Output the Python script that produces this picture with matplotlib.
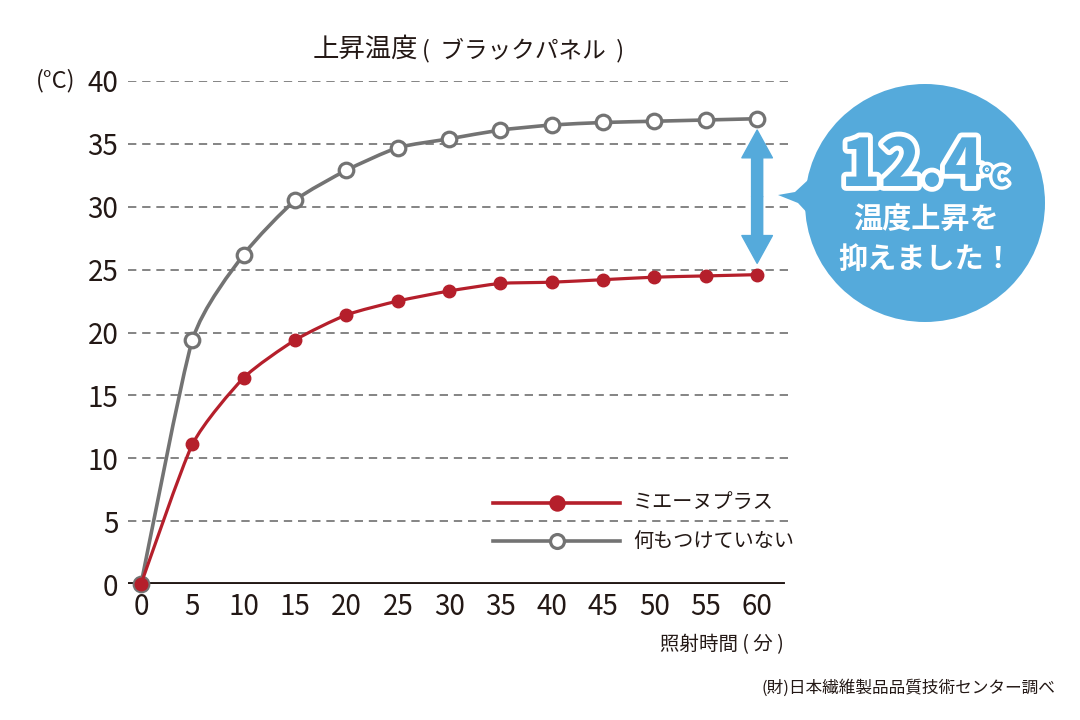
import numpy as np
import matplotlib
matplotlib.use("Agg")
import matplotlib.pyplot as plt
from matplotlib.path import Path
from matplotlib.patches import PathPatch, Ellipse, Polygon
from matplotlib.lines import Line2D
import matplotlib.patheffects as pe

plt.rcParams['font.family'] = ['Noto Sans CJK JP', 'DejaVu Sans']

# data
minutes = [0, 5, 10, 15, 20, 25, 30, 35, 40, 45, 50, 55, 60]
plain = [0, 19.4, 26.2, 30.5, 32.9, 34.7, 35.4, 36.1, 36.5, 36.7, 36.8, 36.9, 37.0]
mienu = [0, 11.1, 16.4, 19.4, 21.4, 22.5, 23.3, 23.9, 24.0, 24.2, 24.4, 24.5, 24.6]
series_names = ['ミエーヌプラス', '何もつけていない']
yticks = [0, 5, 10, 15, 20, 25, 30, 35, 40]

RED = '#b51f2b'
GRAY = '#737373'
BLUE = '#55aadb'
INK = '#231815'


def smooth_path(xs, ys, t=0.6):
    # catmull-rom through the points (reduced tension), drawn as cubic beziers
    p = np.column_stack([xs, ys]).astype(float)
    verts = [p[0]]
    codes = [Path.MOVETO]
    n = len(p)
    for i in range(n - 1):
        p0 = p[max(i - 1, 0)]
        p1 = p[i]
        p2 = p[i + 1]
        p3 = p[min(i + 2, n - 1)]
        verts += [p1 + t * (p2 - p0) / 6, p2 - t * (p3 - p1) / 6, p2]
        codes += [Path.CURVE4] * 3
    return Path(verts, codes)


fig = plt.figure(figsize=(10.8, 7.2), dpi=100)
ax = fig.add_axes([128 / 1080, 1 - 584 / 720, 662 / 1080, 503 / 720])
ax.set_xlim(-1.27, 63.2)
ax.set_ylim(0, 40)

for v in yticks[1:]:
    ax.axhline(v, color='#6f6f6f', lw=1.2, ls=(0, (5, 3.5)), zorder=1)
ax.axhline(0, color=INK, lw=2.8, zorder=2, xmax=0.99)

# lines
ax.add_patch(PathPatch(smooth_path(minutes, plain), fill=False, ec=GRAY, lw=2.6, zorder=3))
ax.plot(minutes, plain, ls='none', marker='o', ms=10.5, mfc='white', mec=GRAY, mew=2.3,
        zorder=4, clip_on=False)
ax.plot(minutes[0], plain[0], ls='none', marker='o', ms=10.5, mfc=GRAY, mec=GRAY, zorder=4, clip_on=False)
ax.add_patch(PathPatch(smooth_path(minutes, mienu), fill=False, ec=RED, lw=2.3, zorder=5))
ax.plot(minutes, mienu, ls='none', marker='o', ms=9, color=RED, zorder=6, clip_on=False)

# difference arrow
mid = (plain[-1] + mienu[-1]) / 2
for end in (plain[-1] - 0.9, mienu[-1] + 0.9):
    ax.annotate('', xy=(minutes[-1], end), xytext=(minutes[-1], mid),
                arrowprops=dict(arrowstyle='simple,head_length=2.0,head_width=2.2,tail_width=0.8',
                                mutation_scale=10, color=BLUE, shrinkA=0, shrinkB=0), zorder=7)

ax.set_xticks(minutes)
ax.set_yticks(yticks)
ax.tick_params(length=0, labelsize=20, colors=INK)
ax.tick_params(axis='x', pad=6)
ax.tick_params(axis='y', pad=7)
for s in ax.spines.values():
    s.set_visible(False)

# texts
fig.text(313 / 1080, 1 - 57 / 720, '上昇温度', fontsize=19, color=INK, va='baseline')
fig.text(422 / 1080, 1 - 57 / 720, '(  ブラックパネル  )', fontsize=17, color=INK, va='baseline')
fig.text(36 / 1080, 1 - 81 / 720, '(°C)', fontsize=17, color=INK, va='center')
fig.text(660 / 1080, 1 - 645 / 720, '照射時間 ( 分 )', fontsize=14, color=INK, va='center')
fig.text(1055 / 1080, 1 - 688 / 720, '(財)日本繊維製品品質技術センター調べ', fontsize=12,
         color=INK, va='center', ha='right')

# legend
for yy, col, face, name in [(503, RED, RED, series_names[0]), (541, GRAY, 'white', series_names[1])]:
    fy = 1 - yy / 720
    fig.add_artist(Line2D([493 / 1080, 620 / 1080], [fy, fy], color=col, lw=2.6))
    fig.add_artist(Line2D([557 / 1080], [fy], marker='o', ms=9.5 if face == RED else 10,
                          mfc=face, mec=col, mew=2.3, ls='none'))
    fig.text(633 / 1080, fy, name, fontsize=14.5, color=INK, va='center')

# bubble
fig.add_artist(Ellipse((925 / 1080, 1 - 203 / 720), 240 / 1080, 238 / 720, color=BLUE, lw=0))
tail = [(778, 195), (795, 192), (808, 180), (815, 200), (812, 218), (798, 203)]
fig.add_artist(Polygon([(x / 1080, 1 - y / 720) for x, y in tail], closed=True, color=BLUE, lw=0))

outline = [pe.Stroke(linewidth=7, foreground='white'), pe.Normal()]
fig.text(841 / 1080, 1 - 186 / 720, '12.4', fontsize=47, fontweight='black', color=BLUE,
         va='baseline', path_effects=outline)
fig.text(982 / 1080, 1 - 186 / 720, '℃', fontsize=19, fontweight='black', color=BLUE,
         va='baseline', path_effects=[pe.Stroke(linewidth=5, foreground='white'), pe.Normal()])
fig.text(926 / 1080, 1 - 219 / 720, '温度上昇を', fontsize=21, fontweight='bold', color='white',
         ha='center', va='center')
fig.text(926 / 1080, 1 - 259 / 720, '抑えました！', fontsize=21, fontweight='bold', color='white',
         ha='center', va='center')

fig.savefig('out.png', dpi=100)
